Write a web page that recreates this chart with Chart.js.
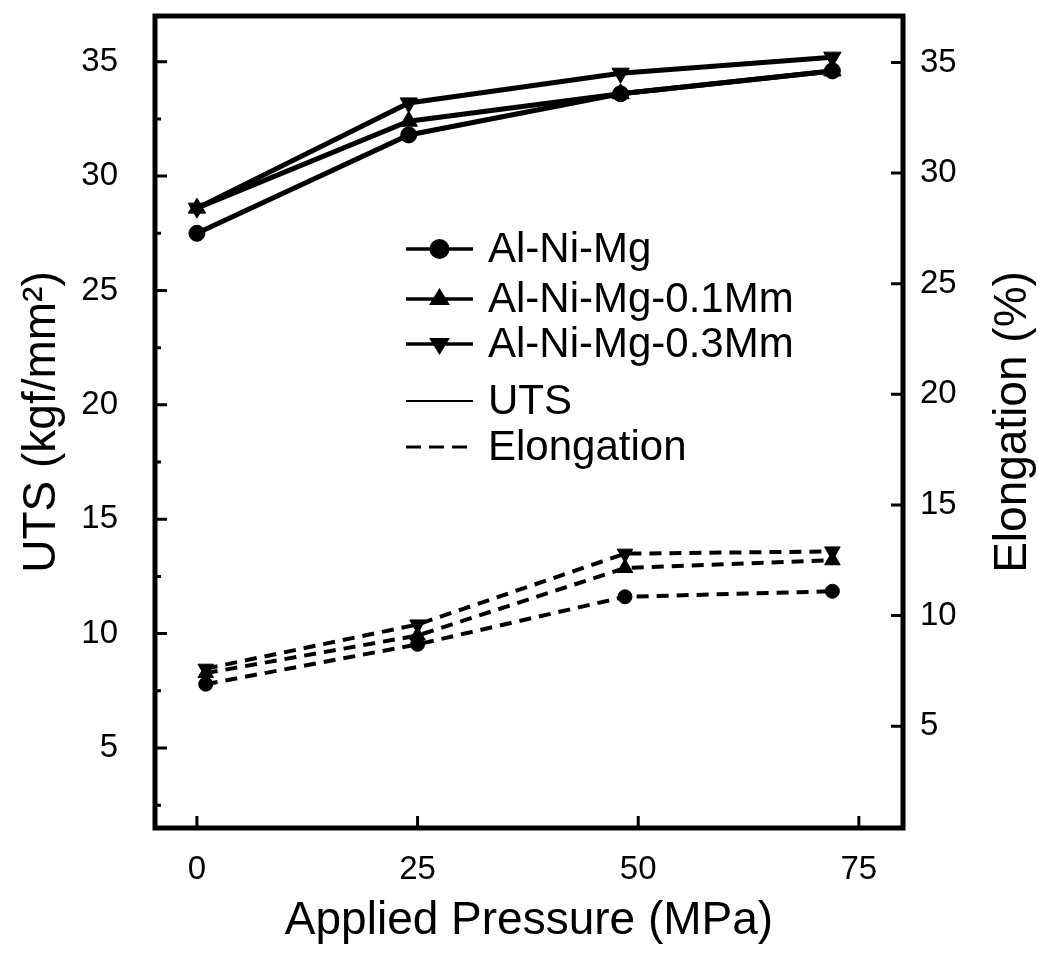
<!DOCTYPE html>
<html lang="en">

<head>
    <meta charset="UTF-8">
    <title>UTS and Elongation vs Applied Pressure</title>
    <script src="https://cdn.jsdelivr.net/npm/chart.js"></script>
    <style>
        html, body { margin: 0; padding: 0; background: #fff; }
    </style>
</head>

<body>
    <canvas id="pressureChart" width="1038" height="958"></canvas>

    <script>
        // values
        const seriesNames = ['Al-Ni-Mg', 'Al-Ni-Mg-0.1Mm', 'Al-Ni-Mg-0.3Mm'];
        const utsPressure = [0, 24, 48, 72];
        const elongPressure = [1, 25, 48.5, 72];
        const utsAlNiMg = [27.5, 31.8, 33.6, 34.6];
        const uts01Mm = [28.6, 32.4, 33.6, 34.6];
        const uts03Mm = [28.6, 33.2, 34.5, 35.2];
        const elongAlNiMg = [6.9, 8.7, 10.85, 11.1];
        const elong01Mm = [7.4, 9.1, 12.15, 12.5];
        const elong03Mm = [7.6, 9.6, 12.8, 12.9];
        const xTicks = [0, 25, 50, 75];
        const utsTicks = [5, 10, 15, 20, 25, 30, 35];
        const utsMinorTicks = [2.5, 7.5, 12.5, 17.5, 22.5, 27.5, 32.5];
        const elongTicks = [5, 10, 15, 20, 25, 30, 35];
        const legendLabels = ['Al-Ni-Mg', 'Al-Ni-Mg-0.1Mm', 'Al-Ni-Mg-0.3Mm', 'UTS', 'Elongation'];
        const elongTitle = 'Elongation (%)';

        const FONT = "'Liberation Sans', Arial, Helvetica, sans-serif";
        Chart.defaults.font.family = FONT;
        Chart.defaults.color = '#000';

        const markers = [
            { style: 'circle', rotation: 0, radius: 8 },
            { style: 'triangle', rotation: 0, radius: 10 },
            { style: 'triangle', rotation: 180, radius: 10 }
        ];

        function toPoints(xs, ys) {
            return xs.map((x, i) => ({ x: x, y: ys[i] }));
        }

        const datasets = [];
        [utsAlNiMg, uts01Mm, uts03Mm].forEach((vals, i) => {
            datasets.push({
                label: seriesNames[i] + ' UTS',
                data: toPoints(utsPressure, vals),
                yAxisID: 'y',
                borderColor: '#000',
                backgroundColor: '#000',
                borderWidth: 5,
                pointStyle: markers[i].style,
                rotation: markers[i].rotation,
                pointRadius: markers[i].radius,
                pointBorderWidth: 1
            });
        });
        [elongAlNiMg, elong01Mm, elong03Mm].forEach((vals, i) => {
            datasets.push({
                label: seriesNames[i] + ' Elongation',
                data: toPoints(elongPressure, vals),
                yAxisID: 'y2',
                borderColor: '#000',
                backgroundColor: '#000',
                borderWidth: 4,
                borderDash: [12, 8],
                pointStyle: markers[i].style,
                rotation: markers[i].rotation,
                pointRadius: markers[i].radius - 1,
                pointBorderWidth: 1
            });
        });

        function drawMarker(ctx, m, x, y, r) {
            ctx.beginPath();
            if (m.style === 'circle') {
                ctx.arc(x, y, r, 0, Math.PI * 2);
            } else {
                const dir = m.rotation === 180 ? -1 : 1;
                ctx.moveTo(x, y - dir * r);
                ctx.lineTo(x + r * 0.95, y + dir * r * 0.55);
                ctx.lineTo(x - r * 0.95, y + dir * r * 0.55);
                ctx.closePath();
            }
            ctx.fill();
        }

        function noPadding(scale) {
            scale.paddingTop = 0;
            scale.paddingBottom = 0;
            scale.paddingLeft = 0;
            scale.paddingRight = 0;
        }

        // frame, inward ticks, right title and the in-plot legend
        const framePlugin = {
            id: 'framePlugin',
            afterDatasetsDraw(chart) {
                const { ctx, chartArea: a, scales } = chart;
                ctx.save();
                ctx.strokeStyle = '#000';
                ctx.lineWidth = 3;
                ctx.beginPath();
                xTicks.forEach(v => {
                    const px = scales.x.getPixelForValue(v);
                    ctx.moveTo(px, a.bottom);
                    ctx.lineTo(px, a.bottom - 12);
                });
                utsTicks.forEach(v => {
                    const py = scales.y.getPixelForValue(v);
                    ctx.moveTo(a.left, py);
                    ctx.lineTo(a.left + 12, py);
                });
                utsMinorTicks.forEach(v => {
                    const py = scales.y.getPixelForValue(v);
                    if (py > a.top && py < a.bottom) {
                        ctx.moveTo(a.left, py);
                        ctx.lineTo(a.left + 6, py);
                    }
                });
                elongTicks.forEach(v => {
                    const py = scales.y2.getPixelForValue(v);
                    ctx.moveTo(a.right, py);
                    ctx.lineTo(a.right - 12, py);
                });
                ctx.stroke();

                ctx.lineWidth = 5;
                ctx.strokeRect(a.left, a.top, a.right - a.left, a.bottom - a.top);

                // right axis title, reading bottom to top like the left one
                ctx.save();
                ctx.translate(scales.y2.right - 25, (a.top + a.bottom) / 2);
                ctx.rotate(-Math.PI / 2);
                ctx.font = '46px ' + FONT;
                ctx.fillStyle = '#000';
                ctx.textAlign = 'center';
                ctx.textBaseline = 'middle';
                ctx.fillText(elongTitle, 0, 0);
                ctx.restore();

                // legend
                const lx0 = 406, lx1 = 473, tx = 488;
                const rowY = [249, 299, 344, 401, 447];
                ctx.fillStyle = '#000';
                ctx.font = '42px ' + FONT;
                ctx.textBaseline = 'middle';
                ctx.textAlign = 'left';
                legendLabels.forEach((label, i) => {
                    const y = rowY[i];
                    ctx.beginPath();
                    if (i < 3) {
                        ctx.lineWidth = 3.5;
                        ctx.setLineDash([]);
                    } else if (i === 3) {
                        ctx.lineWidth = 2;
                        ctx.setLineDash([]);
                    } else {
                        ctx.lineWidth = 3;
                        ctx.setLineDash([15, 8]);
                    }
                    ctx.moveTo(lx0, y);
                    ctx.lineTo(lx1, y);
                    ctx.stroke();
                    ctx.setLineDash([]);
                    if (i < 3) {
                        drawMarker(ctx, markers[i], (lx0 + lx1) / 2, y, i === 0 ? 10 : 11);
                    }
                    ctx.fillText(label, tx, y + 1);
                });
                ctx.restore();
            }
        };

        const ctx = document.getElementById('pressureChart').getContext('2d');
        new Chart(ctx, {
            type: 'line',
            data: { datasets: datasets },
            options: {
                responsive: false,
                animation: false,
                devicePixelRatio: 1,
                layout: { padding: { top: 16, left: 0, right: 0, bottom: 0 } },
                plugins: {
                    legend: { display: false },
                    tooltip: { enabled: false }
                },
                scales: {
                    x: {
                        type: 'linear',
                        min: -4.75,
                        max: 80,
                        grid: { display: false },
                        border: { display: false },
                        afterBuildTicks: scale => { scale.ticks = xTicks.map(v => ({ value: v })); },
                        afterFit: scale => { scale.height = 130; noPadding(scale); },
                        ticks: { font: { size: 33 }, padding: 14, maxRotation: 0 },
                        title: {
                            display: true,
                            text: 'Applied Pressure (MPa)',
                            font: { size: 46 },
                            padding: { top: 0, bottom: 9 }
                        }
                    },
                    y: {
                        type: 'linear',
                        position: 'left',
                        min: 1.5,
                        max: 37,
                        grid: { display: false },
                        border: { display: false },
                        afterBuildTicks: scale => { scale.ticks = utsTicks.map(v => ({ value: v })); },
                        afterFit: scale => { scale.width = 155; noPadding(scale); },
                        ticks: { font: { size: 33 }, padding: 29 },
                        title: {
                            display: true,
                            text: 'UTS (kgf/mm²)',
                            font: { size: 46 },
                            padding: { top: 15, bottom: 0 }
                        }
                    },
                    y2: {
                        type: 'linear',
                        position: 'right',
                        min: 0.4,
                        max: 37.1,
                        grid: { display: false },
                        border: { display: false },
                        afterBuildTicks: scale => { scale.ticks = elongTicks.map(v => ({ value: v })); },
                        afterFit: scale => { scale.width = 135; noPadding(scale); },
                        ticks: { font: { size: 33 }, padding: 9 }
                    }
                }
            },
            plugins: [framePlugin]
        });
    </script>
</body>

</html>
